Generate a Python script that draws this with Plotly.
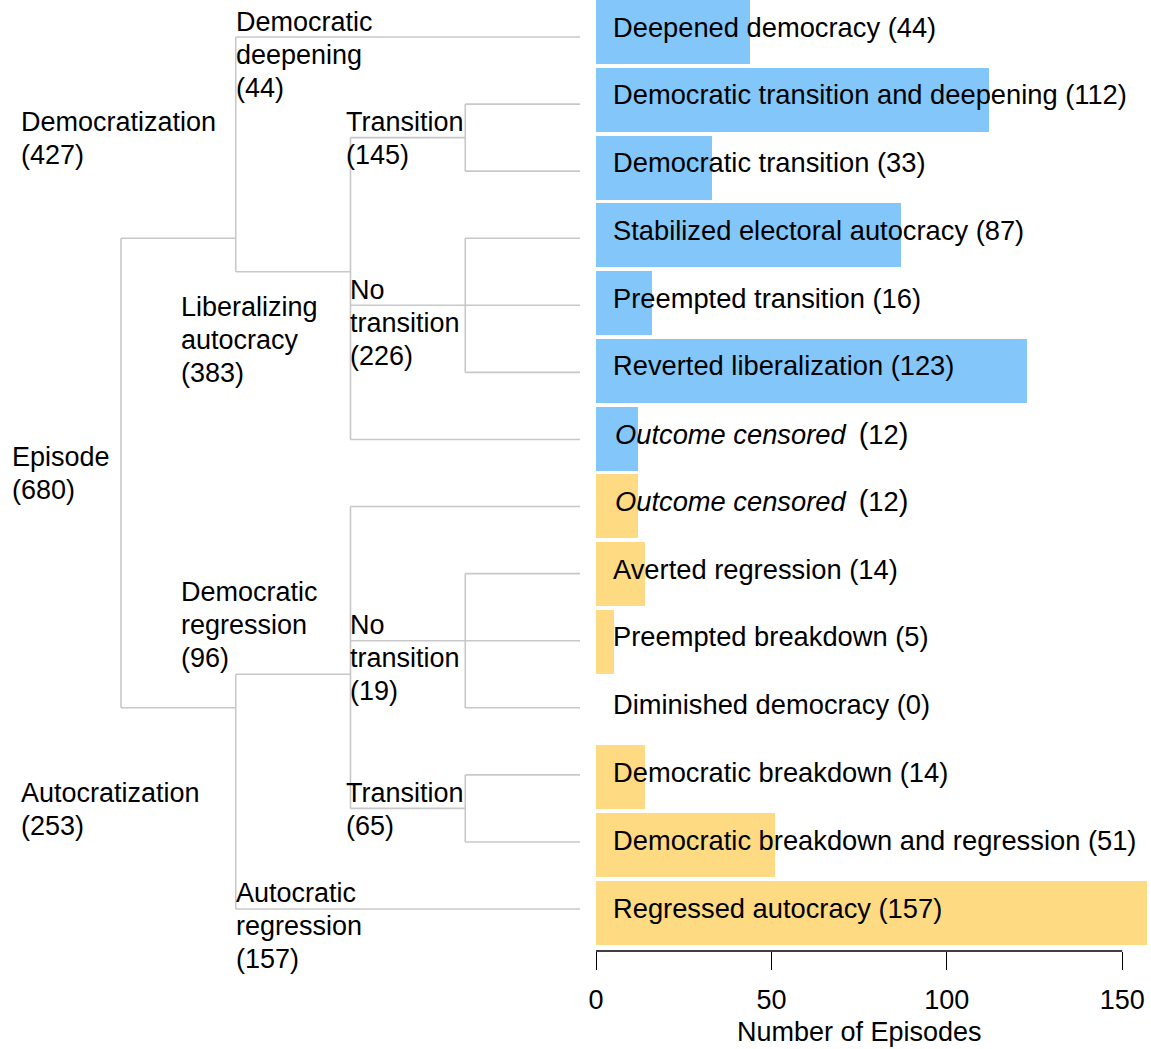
import plotly.graph_objects as go

# ---------------- data ----------------
bar_labels = [
    "Deepened democracy", "Democratic transition and deepening", "Democratic transition",
    "Stabilized electoral autocracy", "Preempted transition", "Reverted liberalization",
    "Outcome censored", "Outcome censored", "Averted regression", "Preempted breakdown",
    "Diminished democracy", "Democratic breakdown", "Democratic breakdown and regression",
    "Regressed autocracy",
]
bar_values = [44, 112, 33, 87, 16, 123, 12, 12, 14, 5, 0, 14, 51, 157]
bar_group = ["Democratization"] * 7 + ["Autocratization"] * 7
bar_italic = [False] * 6 + [True, True] + [False] * 6

node_names = ["Episode", "Democratization", "Autocratization", "Democratic deepening",
              "Liberalizing autocracy", "Democratic regression", "Autocratic regression",
              "Transition", "No transition", "No transition", "Transition"]
node_counts = [680, 427, 253, 44, 383, 96, 157, 145, 226, 19, 65]
node_parent = [None, 0, 0, 1, 1, 2, 2, 4, 4, 5, 5]
leaf_parent = [3, 7, 7, 8, 8, 8, 4, 5, 9, 9, 9, 10, 10, 6]

x_ticks = [0, 50, 100, 150]
x_title = "Number of Episodes"

# ---------------- styling / layout ----------------
W, H = 1151, 1049
PLOT_BOTTOM = 951
FONT = "Liberation Sans, Arial, Helvetica, sans-serif"
FS = 27
colors = {"Democratization": "#82C6FA", "Autocratization": "#FEDA82"}
tree_col = "#C8C8C8"

# bar panel geometry (pixels)
bar_x0_px, bar_px_per_unit = 596, 3.508
bar_row0_px, bar_pitch = 32, 67.77
# tree panel geometry
tree_x0_px, tree_lvl_px = 121, 114.75
tree_row0_px, tree_pitch = 37, 67.08
LEAF_DEPTH = 4

# ---------------- tree geometry from structure ----------------
n_nodes = len(node_names)
depth = [0] * n_nodes
for i in range(n_nodes):
    d, p = 0, node_parent[i]
    while p is not None:
        d += 1
        p = node_parent[p]
    depth[i] = d

def leaves_of(i):
    res = [k for k, p in enumerate(leaf_parent) if p == i]
    for j in range(n_nodes):
        if node_parent[j] == i:
            res += leaves_of(j)
    return res

node_y = []
for i in range(n_nodes):
    lv = leaves_of(i)
    node_y.append((min(lv) + max(lv)) / 2)

xs, ys = [], []
for i in range(n_nodes):
    kids_y = [node_y[j] for j in range(n_nodes) if node_parent[j] == i]
    kids_y += [k for k, p in enumerate(leaf_parent) if p == i]
    if node_parent[i] is not None:
        xs += [depth[node_parent[i]], depth[i], None]
        ys += [node_y[i], node_y[i], None]
    if len(kids_y) > 1:
        xs += [depth[i], depth[i], None]
        ys += [min(kids_y), max(kids_y), None]
for k, p in enumerate(leaf_parent):
    xs += [depth[p], LEAF_DEPTH, None]
    ys += [k, k, None]

fig = go.Figure()

fig.add_trace(go.Scatter(x=xs, y=ys, mode="lines", xaxis="x2", yaxis="y2",
                         line=dict(color=tree_col, width=1.6), hoverinfo="skip",
                         showlegend=False))

rows = list(range(len(bar_labels)))
fig.add_trace(go.Bar(x=bar_values, y=rows, orientation="h", width=0.944,
                     marker=dict(color=[colors[g] for g in bar_group], line=dict(width=0)),
                     showlegend=False, hoverinfo="skip"))

annotations = []
for k, (lab, v, it) in enumerate(zip(bar_labels, bar_values, bar_italic)):
    if it:
        txt = f"<i>{lab}</i> \u2009<span style='font-size:29px'>(</span>{v}<span style='font-size:29px'>)</span>"
    else:
        txt = f"{lab} ({v})"
    annotations.append(dict(x=0, y=k, xref="x", yref="y", text=txt, showarrow=False,
                            xanchor="left", yanchor="middle", xshift=15 if not it else 17,
                            yshift=5, font=dict(family=FONT, size=FS + 0.3, color="black")))

# tree labels: (left px, first-line centre px)
label_pos = [(12, 457), (21, 122), (21, 793), (236, 22), (181, 307), (181, 592),
             (236, 893), (346, 122), (350, 290), (350, 625), (346, 793)]
LINE_H = 33
for i in range(n_nodes):
    lines = node_names[i].split(" ") + [f"({node_counts[i]})"]
    lx, ly = label_pos[i]
    for j, ln in enumerate(lines):
        py = ly + j * LINE_H
        annotations.append(dict(x=lx / W, y=1 - py / PLOT_BOTTOM, xref="paper", yref="paper",
                                text=ln, showarrow=False, xanchor="left", yanchor="middle",
                                xshift=-2, font=dict(family=FONT, size=FS, color="black")))

# x axis title
annotations.append(dict(x=(x_ticks[0] + x_ticks[-1]) / 2, xref="x", y=1 - 1032 / PLOT_BOTTOM,
                        yref="paper", text=x_title, showarrow=False, xanchor="center",
                        yanchor="middle", font=dict(family=FONT, size=FS, color="black")))

bar_dom0 = bar_x0_px / W
bar_xmax = (W - bar_x0_px) / bar_px_per_unit
tree_xmin = -tree_x0_px / tree_lvl_px
tree_xmax = (bar_x0_px - tree_x0_px) / tree_lvl_px

fig.update_layout(
    template="none",
    width=W, height=H,
    margin=dict(l=0, r=0, t=0, b=H - PLOT_BOTTOM, pad=0, autoexpand=False),
    paper_bgcolor="white", plot_bgcolor="white",
    font=dict(family=FONT, size=FS, color="black"),
    bargap=0,
    xaxis=dict(domain=[bar_dom0, 1], range=[0, bar_xmax], tickvals=x_ticks,
               ticks="outside", ticklen=18, tickwidth=1.3, tickcolor="black",
               ticklabelstandoff=7, showgrid=False, zeroline=False, showline=False,
               automargin=False, tickfont=dict(family=FONT, size=FS, color="black")),
    yaxis=dict(range=[(PLOT_BOTTOM - bar_row0_px) / bar_pitch, -bar_row0_px / bar_pitch],
               showticklabels=False, showgrid=False, zeroline=False, ticks="",
               automargin=False),
    xaxis2=dict(domain=[0, bar_dom0], range=[tree_xmin, tree_xmax], visible=False,
                anchor="y2", automargin=False),
    yaxis2=dict(range=[(PLOT_BOTTOM - tree_row0_px) / tree_pitch, -tree_row0_px / tree_pitch],
                overlaying="y", visible=False, anchor="x2", automargin=False),
    annotations=annotations,
    shapes=[dict(type="line", xref="x", yref="paper", x0=x_ticks[0], x1=x_ticks[-1],
                 y0=0, y1=0, line=dict(color="black", width=1.3))],
)

fig.write_html("out.html", config={"displayModeBar": False},
               post_script="document.body.style.margin='0';document.body.style.overflow='hidden';")
